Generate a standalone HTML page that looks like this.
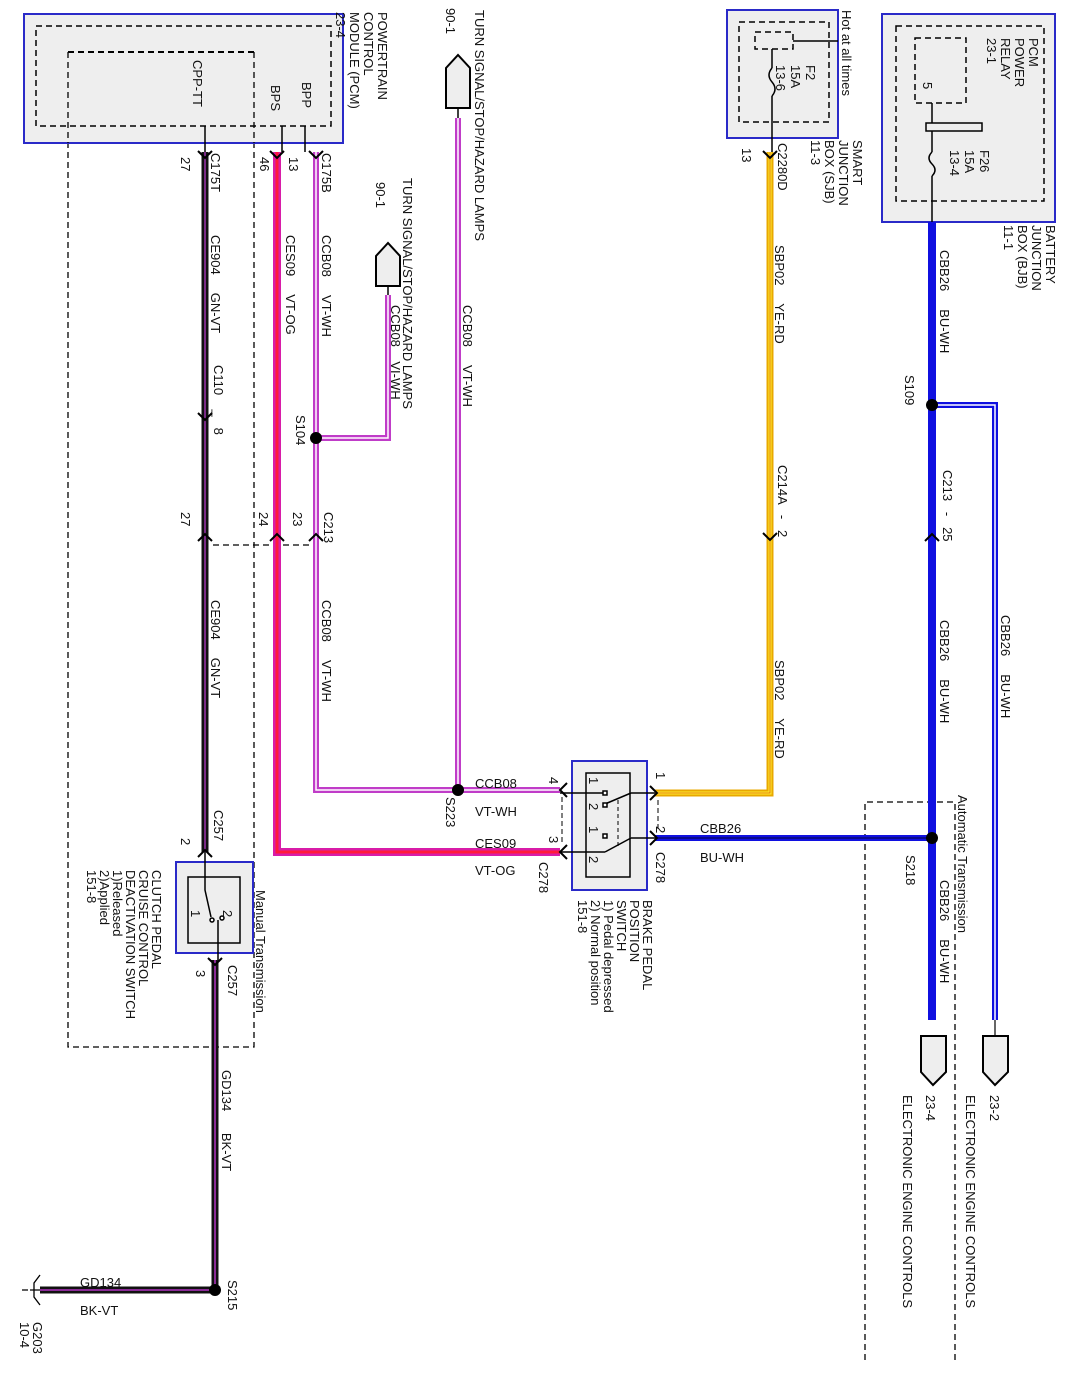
<!DOCTYPE html>
<html><head><meta charset="utf-8"><style>
html,body{margin:0;padding:0;background:#fff}
svg{display:block}
text{font-family:"Liberation Sans",sans-serif;font-size:13px;fill:#111;white-space:pre}
</style></head><body>
<svg width="1073" height="1383" viewBox="0 0 1073 1383" xmlns="http://www.w3.org/2000/svg" xml:space="preserve">
<defs>
<g id="arD"><path d="M-7,-7 L0,0 L7,-7" fill="none" stroke="#000" stroke-width="2"/></g>
<g id="arU"><path d="M-7,7 L0,0 L7,7" fill="none" stroke="#000" stroke-width="2"/></g>
</defs>
<g fill="none" stroke="#000" stroke-width="1.3" stroke-dasharray="6,4">
<path d="M68,52 V1047 H254 V52"/>
<path d="M213,545 H320"/>
<path d="M865,1360 V802 H955 V1360"/>
</g>
<rect x="24" y="14" width="319" height="129" fill="#eeeeee" stroke="#2a2ac8" stroke-width="2"/>
<rect x="36" y="26" width="295" height="100" fill="none" stroke="#000" stroke-width="1.5" stroke-dasharray="6,4"/>
<path d="M68,52 H254" fill="none" stroke="#000" stroke-width="2" stroke-dasharray="6,4"/>
<path d="M68,52 V143 M254,52 V143" fill="none" stroke="#000" stroke-width="1.3" stroke-dasharray="6,4"/>
<g stroke="#000" stroke-width="1.5"><path d="M205,126 V152 M282,126 V152 M305,126 V152"/></g>
<rect x="727" y="10" width="111" height="128" fill="#eeeeee" stroke="#2a2ac8" stroke-width="2"/>
<rect x="739" y="22" width="90" height="100" fill="none" stroke="#000" stroke-width="1.5" stroke-dasharray="6,4"/>
<rect x="755" y="32" width="38" height="17" fill="none" stroke="#000" stroke-width="1.5" stroke-dasharray="6,4"/>
<path d="M793,41 H838 M772,49 V68 M772,96 V152" stroke="#000" stroke-width="1.5" fill="none"/>
<path d="M772,68 q-6,7 0,14 q6,7 0,14" stroke="#000" stroke-width="1.5" fill="none"/>
<rect x="882" y="14" width="173" height="208" fill="#eeeeee" stroke="#2a2ac8" stroke-width="2"/>
<rect x="896" y="26" width="148" height="175" fill="none" stroke="#000" stroke-width="1.5" stroke-dasharray="6,4"/>
<rect x="915" y="38" width="51" height="65" fill="none" stroke="#000" stroke-width="1.5" stroke-dasharray="6,4"/>
<rect x="926" y="123" width="56" height="8" fill="#eee" stroke="#000" stroke-width="1.5"/>
<path d="M932,103 V123 M932,131 V152 M932,176 V222" stroke="#000" stroke-width="1.5" fill="none"/>
<path d="M932,152 q-6,6 0,12 q6,6 0,12" stroke="#000" stroke-width="1.5" fill="none"/>
<g fill="none" stroke-linejoin="miter">
<path d="M205,152 V852" stroke="#111" stroke-width="7"/><path d="M205,152 V852" stroke="#7a2a86" stroke-width="2"/>
<path d="M277,152 V852 H560" stroke="#d81ca8" stroke-width="8"/><path d="M277,152 V852 H560" stroke="#ff1a3a" stroke-width="3"/>
<path d="M316,152 V790 H560" stroke="#c03cc8" stroke-width="6"/><path d="M316,152 V790 H560" stroke="#ffffff" stroke-width="1.5"/>
<path d="M316,438 H388 V295" stroke="#c03cc8" stroke-width="6"/><path d="M316,438 H388 V295" stroke="#ffffff" stroke-width="1.5"/>
<path d="M458,118 V790" stroke="#c03cc8" stroke-width="6"/><path d="M458,118 V790" stroke="#ffffff" stroke-width="1.5"/>
<path d="M770,152 V793 H655" stroke="#e8a800" stroke-width="7"/><path d="M770,152 V793 H655" stroke="#ffee33" stroke-width="3"/><path d="M770,152 V793 H655" stroke="#e06000" stroke-width="0.8"/>
<path d="M932,222 V1020" stroke="#1010e0" stroke-width="8"/>
<path d="M655,838 H932" stroke="#1010e0" stroke-width="6"/><path d="M655,838 H932" stroke="#000" stroke-width="0.8"/>
<path d="M932,405 H995 V1020" stroke="#1010e0" stroke-width="6"/><path d="M932,405 H995 V1020" stroke="#fff" stroke-width="1.5"/>
<path d="M215,960 V1290 H40" stroke="#111" stroke-width="7"/><path d="M215,960 V1290 H40" stroke="#8a2a96" stroke-width="2"/>
</g>
<path d="M995,1020 V1035" stroke="#000" stroke-width="1.2"/>
<use href="#arD" x="205" y="158"/><use href="#arD" x="277" y="158"/><use href="#arD" x="316" y="158"/>
<use href="#arD" x="205" y="420"/><use href="#arU" x="205" y="534"/><use href="#arU" x="277" y="534"/><use href="#arU" x="316" y="534"/>
<use href="#arU" x="205" y="850"/><use href="#arD" x="215" y="965"/>
<use href="#arD" x="770" y="158"/><use href="#arD" x="770" y="540"/><use href="#arU" x="932" y="534"/>
<path d="M567,783 L560,790 L567,797 M567,845 L560,852 L567,859 M650,786 L657,793 L650,800 M650,831 L657,838 L650,845" fill="none" stroke="#000" stroke-width="2"/>
<path d="M562,797 V845 M658,800 V831" stroke="#000" stroke-width="1" stroke-dasharray="5,3"/>
<g fill="#000"><circle cx="316" cy="438" r="6"/><circle cx="458" cy="790" r="6"/><circle cx="932" cy="405" r="6"/><circle cx="932" cy="838" r="6"/><circle cx="215" cy="1290" r="6"/></g>
<g fill="#eeeeee" stroke="#000" stroke-width="2">
<path d="M446,108 V68 L458,55 L470,68 V108 Z"/>
<path d="M376,286 V256 L388,243 L400,256 V286 Z"/>
<path d="M921,1036 V1072 L933,1085 L946,1072 V1036 Z"/>
<path d="M983,1036 V1072 L995,1085 L1008,1072 V1036 Z"/>
</g>
<path d="M458,108 V118 M388,286 V295" stroke="#000" stroke-width="1.5"/>
<rect x="572" y="761" width="75" height="129" fill="#eeeeee" stroke="#2a2ac8" stroke-width="2"/>
<rect x="586" y="773" width="44" height="104" fill="none" stroke="#000" stroke-width="1.5"/>
<g stroke="#000" stroke-width="1.5" fill="none">
<path d="M560,793 H605 M631,793 H655 M605,804 L631,793 M560,852 H605 M605,852 L631,838 M631,838 H655"/>
<path d="M618,800 V846" stroke-dasharray="4,3" stroke-width="1"/>
<rect x="603" y="791" width="4" height="4" fill="#fff"/><rect x="603" y="803" width="4" height="4" fill="#fff"/>
<rect x="603" y="834" width="4" height="4" fill="#fff"/>
</g>
<rect x="176" y="862" width="77" height="91" fill="#eeeeee" stroke="#2a2ac8" stroke-width="2"/>
<rect x="188" y="877" width="52" height="66" fill="none" stroke="#000" stroke-width="1.5"/>
<g stroke="#000" stroke-width="1.5" fill="none"><path d="M205,852 V890 L211,917 M218,920 V960"/>
<circle cx="212" cy="920" r="2" fill="#fff"/><circle cx="222" cy="918" r="2" fill="#fff"/></g>
<g stroke="#000" stroke-width="1.3" fill="none"><path d="M40,1290 L30,1290 M40,1275 L34,1283 L34,1297 L40,1305 M28,1290 H22"/></g>
<text x="475" y="788">CCB08</text><text x="475" y="816">VT-WH</text>
<text x="475" y="848">CES09</text><text x="475" y="875">VT-OG</text>
<text x="700" y="833">CBB26</text><text x="700" y="862">BU-WH</text>
<text x="80" y="1287">GD134</text><text x="80" y="1315">BK-VT</text>
<g>
<text transform="translate(378,12) rotate(90)">POWERTRAIN</text>
<text transform="translate(364,12) rotate(90)">CONTROL</text>
<text transform="translate(350,12) rotate(90)">MODULE (PCM)</text>
<text transform="translate(336,12) rotate(90)">23-4</text>
<text transform="translate(193,60) rotate(90)">CPP-TT</text>
<text transform="translate(271,85) rotate(90)">BPS</text>
<text transform="translate(302,82) rotate(90)">BPP</text>
<text transform="translate(475,10) rotate(90)">TURN SIGNAL/STOP/HAZARD LAMPS</text>
<text transform="translate(446,8) rotate(90)">90-1</text>
<text transform="translate(403,178) rotate(90)">TURN SIGNAL/STOP/HAZARD LAMPS</text>
<text transform="translate(376,182) rotate(90)">90-1</text>
<text transform="translate(391,305) rotate(90)">CCB08    VI-WH</text>
<text transform="translate(463,305) rotate(90)">CCB08     VT-WH</text>
<text transform="translate(211,153) rotate(90)">C175T</text>
<text transform="translate(181,157) rotate(90)">27</text>
<text transform="translate(260,157) rotate(90)">46</text>
<text transform="translate(289,157) rotate(90)">13</text>
<text transform="translate(322,153) rotate(90)">C175B</text>
<text transform="translate(211,235) rotate(90)">CE904     GN-VT</text>
<text transform="translate(286,235) rotate(90)">CES09     VT-OG</text>
<text transform="translate(322,235) rotate(90)">CCB08     VT-WH</text>
<text transform="translate(214,365) rotate(90)">C110    _   8</text>
<text transform="translate(296,415) rotate(90)">S104</text>
<text transform="translate(181,512) rotate(90)">27</text>
<text transform="translate(259,512) rotate(90)">24</text>
<text transform="translate(293,512) rotate(90)">23</text>
<text transform="translate(324,512) rotate(90)">C213</text>
<text transform="translate(211,600) rotate(90)">CE904     GN-VT</text>
<text transform="translate(322,600) rotate(90)">CCB08     VT-WH</text>
<text transform="translate(214,810) rotate(90)">C257</text>
<text transform="translate(181,838) rotate(90)">2</text>
<text transform="translate(446,797) rotate(90)">S223</text>
<text transform="translate(549,777) rotate(90)">4</text>
<text transform="translate(549,836) rotate(90)">3</text>
<text transform="translate(539,862) rotate(90)">C278</text>
<text transform="translate(656,772) rotate(90)">1</text>
<text transform="translate(656,826) rotate(90)">2</text>
<text transform="translate(656,852) rotate(90)">C278</text>
<text transform="translate(589,777) rotate(90)">1</text>
<text transform="translate(589,803) rotate(90)">2</text>
<text transform="translate(589,826) rotate(90)">1</text>
<text transform="translate(589,856) rotate(90)">2</text>
<text transform="translate(643,900) rotate(90)">BRAKE PEDAL</text>
<text transform="translate(630,900) rotate(90)">POSITION</text>
<text transform="translate(617,900) rotate(90)">SWITCH</text>
<text transform="translate(604,900) rotate(90)">1) Pedal depressed</text>
<text transform="translate(591,900) rotate(90)">2) Normal position</text>
<text transform="translate(578,900) rotate(90)">151-8</text>
<text transform="translate(191,910) rotate(90)">1</text>
<text transform="translate(223,910) rotate(90)">2</text>
<text transform="translate(256,890) rotate(90)">Manual Transmission</text>
<text transform="translate(152,870) rotate(90)">CLUTCH PEDAL</text>
<text transform="translate(139,870) rotate(90)">CRUISE CONTROL</text>
<text transform="translate(126,870) rotate(90)">DEACTIVATION SWITCH</text>
<text transform="translate(113,870) rotate(90)">1)Released</text>
<text transform="translate(100,870) rotate(90)">2)Applied</text>
<text transform="translate(87,870) rotate(90)">151-8</text>
<text transform="translate(228,965) rotate(90)">C257</text>
<text transform="translate(196,970) rotate(90)">3</text>
<text transform="translate(222,1070) rotate(90)">GD134      BK-VT</text>
<text transform="translate(228,1280) rotate(90)">S215</text>
<text transform="translate(33,1322) rotate(90)">G203</text>
<text transform="translate(20,1322) rotate(90)">10-4</text>
<text transform="translate(842,10) rotate(90)">Hot at all times</text>
<text transform="translate(806,65) rotate(90)">F2</text>
<text transform="translate(791,65) rotate(90)">15A</text>
<text transform="translate(776,65) rotate(90)">13-6</text>
<text transform="translate(778,143) rotate(90)">C2280D</text>
<text transform="translate(742,148) rotate(90)">13</text>
<text transform="translate(853,140) rotate(90)">SMART</text>
<text transform="translate(839,140) rotate(90)">JUNCTION</text>
<text transform="translate(825,140) rotate(90)">BOX (SJB)</text>
<text transform="translate(811,140) rotate(90)">11-3</text>
<text transform="translate(775,245) rotate(90)">SBP02     YE-RD</text>
<text transform="translate(778,465) rotate(90)">C214A   -   2</text>
<text transform="translate(775,660) rotate(90)">SBP02     YE-RD</text>
<text transform="translate(1029,38) rotate(90)">PCM</text>
<text transform="translate(1015,38) rotate(90)">POWER</text>
<text transform="translate(1001,38) rotate(90)">RELAY</text>
<text transform="translate(987,38) rotate(90)">23-1</text>
<text transform="translate(923,82) rotate(90)">5</text>
<text transform="translate(980,150) rotate(90)">F26</text>
<text transform="translate(965,150) rotate(90)">15A</text>
<text transform="translate(950,150) rotate(90)">13-4</text>
<text transform="translate(1046,225) rotate(90)">BATTERY</text>
<text transform="translate(1032,225) rotate(90)">JUNCTION</text>
<text transform="translate(1018,225) rotate(90)">BOX (BJB)</text>
<text transform="translate(1004,225) rotate(90)">11-1</text>
<text transform="translate(940,250) rotate(90)">CBB26     BU-WH</text>
<text transform="translate(905,375) rotate(90)">S109</text>
<text transform="translate(943,470) rotate(90)">C213   -   25</text>
<text transform="translate(940,620) rotate(90)">CBB26     BU-WH</text>
<text transform="translate(1001,615) rotate(90)">CBB26     BU-WH</text>
<text transform="translate(958,795) rotate(90)">Automatic Transmission</text>
<text transform="translate(906,855) rotate(90)">S218</text>
<text transform="translate(940,880) rotate(90)">CBB26     BU-WH</text>
<text transform="translate(926,1095) rotate(90)">23-4</text>
<text transform="translate(990,1095) rotate(90)">23-2</text>
<text transform="translate(903,1095) rotate(90)">ELECTRONIC ENGINE CONTROLS</text>
<text transform="translate(966,1095) rotate(90)">ELECTRONIC ENGINE CONTROLS</text>
</g>
</svg>
</body></html>
